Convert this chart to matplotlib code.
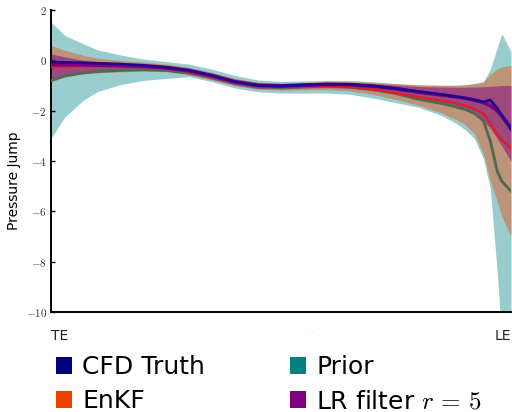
import matplotlib
matplotlib.use("Agg")
import matplotlib.pyplot as plt
from matplotlib.patches import Patch

plt.rcParams['mathtext.fontset'] = 'cm'

# chord-wise stations (TE -> LE)
x = [0, 0.03, 0.07, 0.1, 0.15, 0.2, 0.25, 0.3, 0.35, 0.4, 0.45, 0.5, 0.55, 0.6, 0.65,
     0.7, 0.75, 0.8, 0.85, 0.88, 0.9, 0.92, 0.94, 0.955, 0.97, 0.98, 1.0]

truth = [-0.07, -0.08, -0.1, -0.12, -0.15, -0.2, -0.28, -0.4, -0.6, -0.85, -1.0, -1.02, -0.98, -0.95, -0.96,
         -1.02, -1.12, -1.24, -1.36, -1.44, -1.5, -1.57, -1.65, -1.58, -1.9, -2.2, -2.75]
lr_mean = [-0.17, -0.17, -0.18, -0.19, -0.21, -0.24, -0.3, -0.42, -0.62, -0.86, -1.0, -1.02, -0.99, -0.96, -0.97,
           -1.03, -1.13, -1.27, -1.38, -1.45, -1.5, -1.58, -1.68, -1.8, -2.0, -2.2, -2.65]
enkf_mean = [-0.25, -0.24, -0.23, -0.23, -0.24, -0.27, -0.33, -0.45, -0.65, -0.88, -1.02, -1.05, -1.03, -1.02, -1.06,
             -1.15, -1.3, -1.46, -1.6, -1.7, -1.79, -1.93, -2.12, -2.5, -2.95, -3.15, -3.5]
prior_mean = [-0.8, -0.62, -0.5, -0.45, -0.4, -0.38, -0.4, -0.5, -0.68, -0.9, -1.05, -1.08, -1.05, -1.03, -1.07,
              -1.17, -1.32, -1.55, -1.72, -1.85, -1.95, -2.1, -2.4, -3.2, -4.4, -4.8, -5.2]

prior_hi = [1.52, 0.99, 0.66, 0.42, 0.22, 0.05, -0.05, -0.15, -0.35, -0.6, -0.78, -0.84, -0.82, -0.8, -0.8,
            -0.85, -0.92, -0.98, -1.0, -1.0, -0.98, -0.92, -0.85, -0.35, 0.5, 1.06, 0.35]
prior_lo = [-3.1, -2.25, -1.59, -1.25, -0.97, -0.8, -0.72, -0.65, -0.85, -1.1, -1.25, -1.3, -1.3, -1.3, -1.35,
            -1.5, -1.68, -1.87, -2.2, -2.5, -2.75, -3.1, -3.9, -5.1, -8.4, -11.0, -11.5]
enkf_hi = [0.6, 0.4, 0.2, 0.09, 0.0, -0.07, -0.15, -0.28, -0.48, -0.72, -0.87, -0.9, -0.87, -0.84, -0.85,
           -0.88, -0.93, -0.97, -0.98, -0.98, -0.97, -0.93, -0.86, -0.55, -0.35, -0.26, -0.2]
enkf_lo = [-0.86, -0.66, -0.53, -0.5, -0.46, -0.42, -0.45, -0.58, -0.78, -1.0, -1.15, -1.18, -1.17, -1.16, -1.22,
           -1.35, -1.55, -1.79, -2.1, -2.35, -2.55, -2.9, -3.7, -4.8, -5.6, -6.2, -7.0]
lr_hi = [0.26, 0.14, 0.0, -0.04, -0.08, -0.12, -0.18, -0.3, -0.5, -0.74, -0.88, -0.92, -0.89, -0.86, -0.87,
         -0.92, -0.98, -1.04, -1.06, -1.07, -1.07, -1.06, -1.05, -1.03, -1.02, -1.0, -1.0]
lr_lo = [-0.73, -0.58, -0.46, -0.43, -0.4, -0.38, -0.42, -0.55, -0.75, -0.98, -1.12, -1.14, -1.1, -1.08, -1.1,
         -1.18, -1.32, -1.5, -1.7, -1.85, -1.98, -2.15, -2.4, -2.7, -3.1, -3.4, -4.0]

xtick_pos = [0, 0.567, 1]
xtick_labels = ["TE", ". . .", "LE"]
ytick_pos = [2, 0, -2, -4, -6, -8, -10]
ytick_labels = [r"$2$", r"$0$", r"$-2$", r"$-4$", r"$-6$", r"$-8$", r"$-10$"]

legend_labels = ["CFD Truth", "EnKF", "Prior", r"LR filter $r\,=\,5$"]
legend_colors = ["#000080", "#f04000", "#008080", "#800080"]

fig = plt.figure(figsize=(5.12, 4.12), dpi=100)
ax = fig.add_axes([51 / 512, 1 - 312 / 412, 460 / 512, 302 / 412])

ax.fill_between(x, prior_lo, prior_hi, color="#008080", alpha=0.4, lw=0, zorder=1)
ax.fill_between(x, enkf_lo, enkf_hi, color="#f04000", alpha=0.4, lw=0, zorder=2)
ax.fill_between(x, lr_lo, lr_hi, color="#800080", alpha=0.5, lw=0, zorder=3)

ax.plot(x, prior_mean, color="#4d6a52", lw=2, zorder=4)
ax.plot(x, enkf_mean, color="#d8202e", lw=1.8, zorder=5)
ax.plot(x, lr_mean, color="#800080", lw=2.6, zorder=6)
ax.plot(x, truth, color="#24058c", lw=2, zorder=7)

ax.set_xlim(0, 1)
ax.set_ylim(-10, 2)
for s in ["top", "right"]:
    ax.spines[s].set_visible(False)
for s in ["left", "bottom"]:
    ax.spines[s].set_linewidth(1.4)

ax.set_yticks(ytick_pos)
ax.set_yticklabels(ytick_labels, fontsize=8, color="#333333")
ax.tick_params(axis="y", direction="in", length=3, width=1, pad=3)
ax.set_xticks(xtick_pos)
ax.set_xticklabels(xtick_labels, fontsize=10, color="#222222")
ax.tick_params(axis="x", direction="in", length=0, width=1, pad=12)
labs = ax.get_xticklabels()
labs[0].set_ha("left")
labs[2].set_ha("right")
labs[1].set_fontsize(3)
labs[1].set_color("#999999")

ax.set_ylabel("Pressure Jump", fontsize=10)
ax.yaxis.set_label_coords(-0.066, 0.434)

handles = [Patch(facecolor=c, edgecolor="none") for c in legend_colors]
fig.legend(handles, legend_labels, ncol=2, loc="upper left", bbox_to_anchor=(0.09, 0.162),
           frameon=False, fontsize=18, handlelength=0.64, handleheight=0.64,
           handletextpad=0.4, columnspacing=3.42, labelspacing=0.4, borderaxespad=0)

fig.savefig("out.png", dpi=100)
